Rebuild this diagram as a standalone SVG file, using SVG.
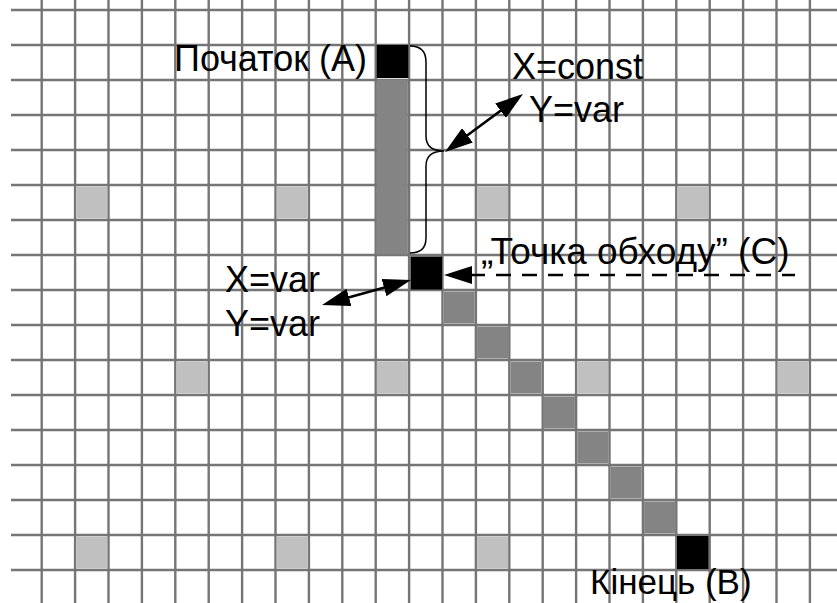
<svg xmlns="http://www.w3.org/2000/svg" width="837" height="603" viewBox="0 0 837 603">
  <style>
    .grid { stroke: #757575; stroke-width: 2.4; fill: none; }
    .path-cell { fill: #848484; }
    .mark-cell { fill: #c0c0c0; }
    .point { fill: #000; }
    .label { font-family: "Liberation Sans", Arial, sans-serif; font-size: 36px; fill: #000; }
    .arrow { stroke: #000; stroke-width: 2.6; fill: none; }
    .brace { stroke: #000; stroke-width: 1.5; fill: none; }
  </style>
  <defs>
    <marker id="head" viewBox="0 0 28 18" refX="8" refY="9" markerWidth="28" markerHeight="18" markerUnits="userSpaceOnUse" orient="auto-start-reverse">
      <path d="M0,0 L28,9 L0,18 Z" fill="#000"/>
    </marker>
  </defs>

  <rect width="837" height="603" fill="#fff"/>

  <!-- grid: 24 columns of 33.4 px, 16 rows of 35 px -->
  <g id="grid">
    <path class="grid" d="M41.7 0V603M75.1 0V603M108.5 0V603M141.9 0V603M175.3 0V603M208.7 0V603M242.1 0V603M275.5 0V603M308.9 0V603M342.3 0V603M375.7 0V603M409.1 0V603M442.5 0V603M475.9 0V603M509.3 0V603M542.7 0V603M576.1 0V603M609.5 0V603M642.9 0V603M676.3 0V603M709.7 0V603M743.1 0V603M776.5 0V603M809.9 0V603"/>
    <path class="grid" d="M11 10H837M11 45H837M11 80H837M11 115H837M11 150H837M11 185H837M11 220H837M11 255H837M11 290H837M11 325H837M11 360H837M11 395H837M11 430H837M11 465H837M11 500H837M11 535H837M11 570H837"/>
  </g>

  <!-- regular marker cells -->
  <g id="markers">
    <rect class="mark-cell" x="76.3" y="186.5" width="31" height="32"/>
    <rect class="mark-cell" x="276.7" y="186.5" width="31" height="32"/>
    <rect class="mark-cell" x="477.1" y="186.5" width="31" height="32"/>
    <rect class="mark-cell" x="677.5" y="186.5" width="31" height="32"/>
    <rect class="mark-cell" x="176.5" y="361.5" width="31" height="32"/>
    <rect class="mark-cell" x="376.9" y="361.5" width="31" height="32"/>
    <rect class="mark-cell" x="577.3" y="361.5" width="31" height="32"/>
    <rect class="mark-cell" x="777.7" y="361.5" width="31" height="32"/>
    <rect class="mark-cell" x="76.3" y="536.5" width="31" height="32"/>
    <rect class="mark-cell" x="276.7" y="536.5" width="31" height="32"/>
    <rect class="mark-cell" x="477.1" y="536.5" width="31" height="32"/>
  </g>

  <!-- route: vertical leg then diagonal leg -->
  <g id="route">
    <rect class="path-cell" x="376.9" y="79.5" width="31" height="175"/>
    <rect class="path-cell" x="443.7" y="291.5" width="31" height="32"/>
    <rect class="path-cell" x="477.1" y="326.5" width="31" height="32"/>
    <rect class="path-cell" x="510.5" y="361.5" width="31" height="32"/>
    <rect class="path-cell" x="543.9" y="396.5" width="31" height="32"/>
    <rect class="path-cell" x="577.3" y="431.5" width="31" height="32"/>
    <rect class="path-cell" x="610.7" y="466.5" width="31" height="32"/>
    <rect class="path-cell" x="644.1" y="501.5" width="31" height="32"/>
  </g>

  <g id="node-a">
    <rect class="point" x="376.7" y="45" width="31.6" height="33"/>
    <text class="label" x="174" y="71">Початок (A)</text>
  </g>

  <g id="node-c">
    <rect class="point" x="410.5" y="256.5" width="31.6" height="33"/>
    <text class="label" x="481" y="264" style="font-size:37px">„Точка обходу” (C)</text>
  </g>

  <g id="node-b">
    <rect class="point" x="677" y="536" width="31.6" height="33"/>
    <text class="label" x="590" y="594" style="font-size:35px">Кінець (B)</text>
  </g>

  <g id="note-const">
    <path class="brace" d="M410,46 Q426,46 426,62 L426,136 Q426,151 444,151 Q426,151 426,166 L426,238 Q426,253 410,253"/>
    <text class="label" x="512" y="79">X=const</text>
    <text class="label" x="529" y="122">Y=var</text>
  </g>

  <g id="note-var">
    <text class="label" x="225" y="292">X=var</text>
    <text class="label" x="225" y="336">Y=var</text>
  </g>

  <g id="connectors">
    <line class="arrow" x1="461.05" y1="140.07" x2="506.95" y2="105.93" marker-start="url(#head)" marker-end="url(#head)"/>
    <line class="arrow" x1="391.7" y1="285.4" x2="341.3" y2="299.6" marker-start="url(#head)" marker-end="url(#head)"/>
    <path class="arrow" d="M464,275 H795" stroke-width="2" stroke-dasharray="15 11" stroke-dashoffset="20" marker-start="url(#head)"/>
  </g>
</svg>
